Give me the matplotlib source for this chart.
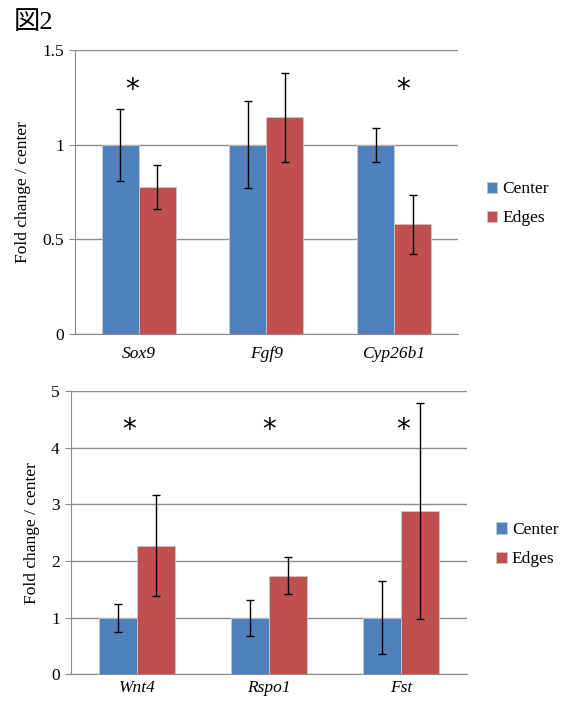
import numpy as np
import matplotlib.pyplot as plt

plt.rcParams['font.family'] = ['Liberation Serif', 'Noto Sans CJK JP']

# Data
genes_top = ['Sox9', 'Fgf9', 'Cyp26b1']
center_top = [1.0, 1.0, 1.0]
center_top_err = [0.19, 0.23, 0.09]
edges_top = [0.775, 1.145, 0.58]
edges_top_err = [0.117, 0.236, 0.155]
sig_top = [True, False, True]

genes_bot = ['Wnt4', 'Rspo1', 'Fst']
center_bot = [1.0, 1.0, 1.0]
center_bot_err = [0.25, 0.32, 0.65]
edges_bot = [2.27, 1.74, 2.88]
edges_bot_err = [0.89, 0.33, 1.91]
sig_bot = [True, True, True]

blue = '#4F81BD'
red = '#C0504D'
grid_col = '#8c8c8c'
w = 0.29


def draw(ax, genes, c, c_err, e, e_err, sig, ymax, yticks, ylabels, star_y, star_dx):
    x = np.arange(len(genes))
    ax.bar(x - w / 2, c, w, color=blue, edgecolor='#c8c8c8', linewidth=0.6,
           label='Center', zorder=2)
    ax.bar(x + w / 2, e, w, color=red, edgecolor='#c8c8c8', linewidth=0.6,
           label='Edges', zorder=2)
    ax.errorbar(x - w / 2, c, yerr=c_err, fmt='none', ecolor='black',
                elinewidth=1, capsize=3, capthick=1, zorder=3)
    ax.errorbar(x + w / 2, e, yerr=e_err, fmt='none', ecolor='black',
                elinewidth=1, capsize=3, capthick=1, zorder=3)
    for i, s in enumerate(sig):
        if s:
            ax.text(x[i] + star_dx[i], star_y, '*', ha='center', va='center',
                    fontsize=20, family='DejaVu Sans')
    ax.set_xlim(-0.5, len(genes) - 0.5)
    ax.set_ylim(0, ymax)
    ax.set_yticks(yticks)
    ax.set_yticklabels(ylabels, fontsize=12.5)
    ax.set_xticks(x)
    ax.set_xticklabels(genes, fontsize=12.5, style='italic')
    ax.tick_params(axis='x', length=0, pad=9)
    ax.tick_params(axis='y', length=4, color=grid_col, pad=4)
    ax.yaxis.grid(True, color=grid_col, linewidth=1)
    ax.set_axisbelow(True)
    for sp in ['top', 'right']:
        ax.spines[sp].set_visible(False)
    ax.spines['left'].set_color(grid_col)
    ax.spines['bottom'].set_color(grid_col)
    ax.set_ylabel('Fold change / center', fontsize=12.5, labelpad=8)
    ax.legend(loc='center left', bbox_to_anchor=(1.035, 0.458), frameon=False,
              fontsize=12.5, handlelength=0.6, handleheight=0.6,
              handletextpad=0.3, labelspacing=0.75)


fig = plt.figure(figsize=(5.63, 7.03), dpi=100)
ax1 = fig.add_axes([0.1332, 0.5249, 0.680, 0.404])
ax2 = fig.add_axes([0.126, 0.0408, 0.703, 0.4028])

draw(ax1, genes_top, center_top, center_top_err, edges_top, edges_top_err,
     sig_top, 1.5, [0, 0.5, 1, 1.5], ['0', '0.5', '1', '1.5'], 1.29,
     [-0.05, 0, 0.07])
draw(ax2, genes_bot, center_bot, center_bot_err, edges_bot, edges_bot_err,
     sig_bot, 5, [0, 1, 2, 3, 4, 5], ['0', '1', '2', '3', '4', '5'], 4.32,
     [-0.06, 0, 0.02])
ax2.tick_params(axis='x', pad=4)

fig.text(0.025, 0.968, '図2', fontsize=19, va='center', ha='left')

fig.savefig('out.png', dpi=100)
